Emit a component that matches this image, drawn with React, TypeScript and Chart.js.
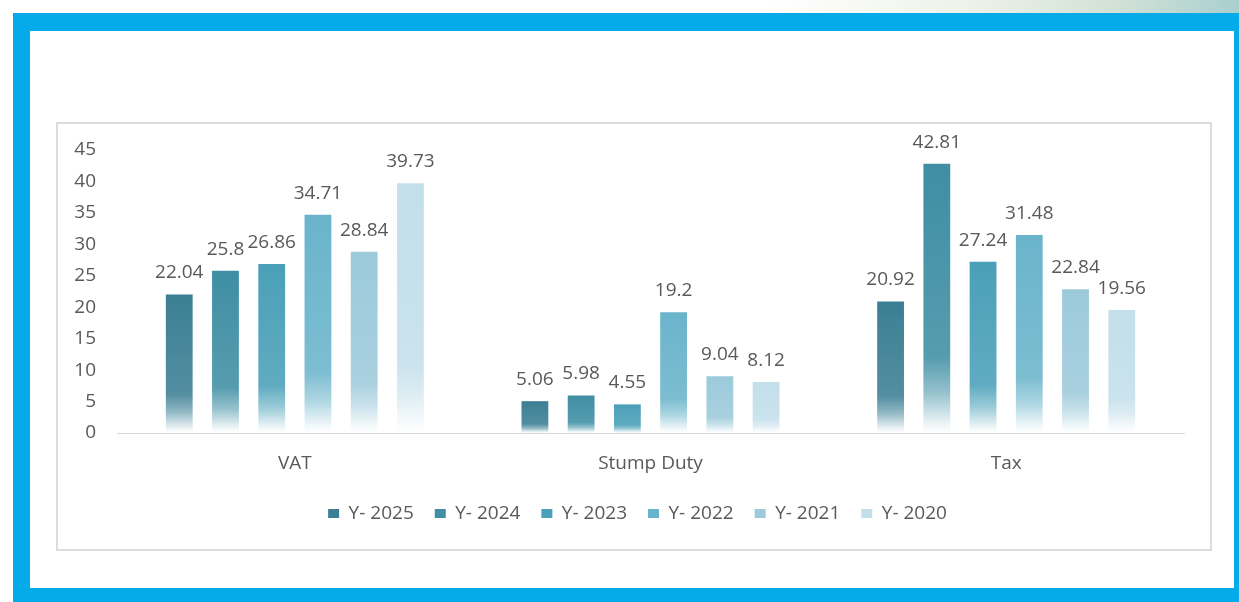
import React, { useEffect, useRef } from "react";
import { Chart, registerables } from "chart.js";

Chart.register(...registerables);

// ---- data ----
const categories = ["VAT", "Stump Duty", "Tax"];
const seriesLabels = ["Y- 2025", "Y- 2024", "Y- 2023", "Y- 2022", "Y- 2021", "Y- 2020"];
const y2025 = [22.04, 5.06, 20.92];
const y2024 = [25.8, 5.98, 42.81];
const y2023 = [26.86, 4.55, 27.24];
const y2022 = [34.71, 19.2, 31.48];
const y2021 = [28.84, 9.04, 22.84];
const y2020 = [39.73, 8.12, 19.56];
const seriesValues = [y2025, y2024, y2023, y2022, y2021, y2020];
const seriesColors = ["#3b7f94", "#3f8ea4", "#4aa0b8", "#6ab4cb", "#9ccadb", "#c3dfea"];
const yMin = 0;
const yMax = 45;
const yStep = 5;

const FONT = "'Open Sans', 'Noto Sans', sans-serif";
const TEXT = "#595959";

function hexToRgb(h: string) {
  const n = parseInt(h.slice(1), 16);
  return [(n >> 16) & 255, (n >> 8) & 255, n & 255];
}
function lighten(h: string, t: number, a = 1) {
  const [r, g, b] = hexToRgb(h);
  const m = (c: number) => Math.round(c + (255 - c) * t);
  return `rgba(${m(r)},${m(g)},${m(b)},${a})`;
}

function barFill(ctx: any, color: string) {
  const chart = ctx.chart;
  const { chartArea, scales } = chart;
  if (!chartArea || ctx.type !== "data" || !scales || !scales.y) return color;
  const v = ctx.raw as number;
  const yTop = scales.y.getPixelForValue(v);
  const yBot = scales.y.getPixelForValue(0);
  if (!isFinite(yTop) || !isFinite(yBot) || yBot - yTop < 1) return color;
  const g = chart.ctx.createLinearGradient(0, yTop, 0, yBot);
  g.addColorStop(0, color);
  g.addColorStop(0.72, lighten(color, 0.12));
  g.addColorStop(0.85, lighten(color, 0.45));
  g.addColorStop(0.97, lighten(color, 0.92));
  g.addColorStop(1, "rgba(255,255,255,1)");
  return g;
}

const valueLabels = {
  id: "valueLabels",
  afterDatasetsDraw(chart: any) {
    const c = chart.ctx;
    c.save();
    c.font = `19px ${FONT}`;
    c.fillStyle = TEXT;
    c.textAlign = "center";
    c.textBaseline = "alphabetic";
    chart.data.datasets.forEach((ds: any, i: number) => {
      const meta = chart.getDatasetMeta(i);
      meta.data.forEach((el: any, j: number) => {
        c.fillText(String(ds.data[j]), el.x, el.y - 16);
      });
    });
    c.restore();
  },
};

// centre the legend row as in the original
const legendShift = {
  id: "legendShift",
  afterLayout(chart: any) {
    if (chart.legend) chart.legend.left = 33;
  },
};

function ChartBox() {
  const ref = useRef<HTMLCanvasElement | null>(null);
  useEffect(() => {
    if (!ref.current) return;
    const chart = new Chart(ref.current, {
      type: "bar",
      data: {
        labels: categories,
        datasets: seriesLabels.map((label, i) => ({
          label,
          data: seriesValues[i],
          backgroundColor: (ctx: any) => barFill(ctx, seriesColors[i]),
          borderWidth: 0,
          categoryPercentage: 0.78,
          barPercentage: 0.58,
        })),
      },
      options: {
        responsive: false,
        animation: false,
        layout: { padding: { left: 0, right: 26, top: 26, bottom: 16 } },
        font: { family: FONT },
        plugins: {
          tooltip: { enabled: false },
          legend: {
            display: true,
            position: "bottom",
            labels: {
              font: { family: FONT, size: 19 },
              color: TEXT,
              boxWidth: 11,
              boxHeight: 9,
              padding: 21,
              generateLabels: (chart: any) =>
                chart.data.datasets.map((ds: any, i: number) => ({
                  text: ds.label,
                  fillStyle: seriesColors[i],
                  strokeStyle: seriesColors[i],
                  lineWidth: 0,
                  fontColor: TEXT,
                  hidden: false,
                  datasetIndex: i,
                })),
            },
          },
        },
        scales: {
          x: {
            grid: { display: false, drawTicks: false },
            border: { display: true, color: "#d9d9d9", width: 1 },
            ticks: { font: { family: FONT, size: 19 }, color: TEXT, padding: 19 },
            afterFit: (s: any) => {
              s.height = 50;
            },
          },
          y: {
            min: yMin,
            max: yMax,
            grid: { display: false, drawTicks: false },
            border: { display: false },
            ticks: { stepSize: yStep, font: { family: FONT, size: 19 }, color: TEXT, padding: 21 },
            afterFit: (s: any) => {
              s.width = 59;
              s.paddingTop = 0;
              s.paddingBottom = 0;
            },
          },
        },
      },
      plugins: [valueLabels, legendShift],
    } as any);
    return () => chart.destroy();
  }, []);
  return <canvas ref={ref} width={1152} height={425} style={{ display: "block" }} />;
}

export default function App() {
  return (
    <div
      style={{
        position: "fixed",
        left: 0,
        top: 0,
        width: 1239,
        height: 602,
        overflow: "hidden",
        background: "#ffffff",
      }}
    >
      <div
        style={{
          position: "absolute",
          left: 0,
          top: 0,
          width: 1239,
          height: 13,
          background: "linear-gradient(to right, #ffffff 0%, #ffffff 62%, #eef2ea 78%, #d2e1d6 90%, #a9cfcf 100%)",
        }}
      />
      <div
        style={{
          position: "absolute",
          left: 13,
          top: 13,
          width: 1239 - 13,
          height: 602 - 13,
          background: "#05abe9",
        }}
      />
      <div
        style={{
          position: "absolute",
          left: 30,
          top: 31,
          width: 1234 - 30,
          height: 588 - 31,
          background: "#ffffff",
        }}
      />
      <div
        style={{
          position: "absolute",
          left: 56,
          top: 122,
          width: 1156,
          height: 429,
          border: "2px solid #dcdcdc",
          boxSizing: "border-box",
          background: "#ffffff",
        }}
      >
        <ChartBox />
      </div>
    </div>
  );
}
